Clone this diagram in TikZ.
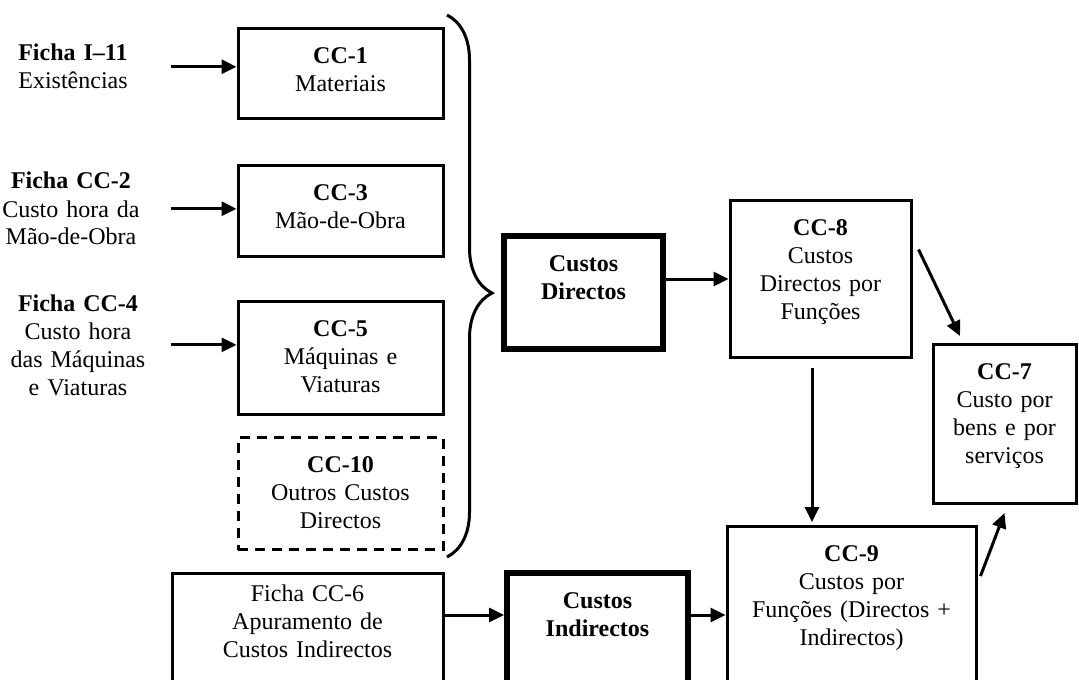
\documentclass[tikz,border=0pt]{standalone}
\usepackage{fontspec}
\setmainfont{Liberation Serif}
\usetikzlibrary{arrows.meta,decorations.pathreplacing}

\begin{document}
\begin{tikzpicture}[x=0.5pt,y=-0.5pt,
        font=\fontsize{12}{14}\selectfont,
        box/.style={draw,line width=1.5pt,align=center,anchor=north,inner sep=0pt,text height=17.5pt},
        bigbox/.style={box,line width=3pt},
        lab/.style={align=center,anchor=base,text width=75pt,inner sep=0pt},
        arr/.style={-{Triangle[length=7.5pt,width=7pt]},line width=1.5pt}]
        \useasboundingbox (0,0) rectangle (1079,679);
        % fichas on the left
        \node[lab] (fi11) at (73,61) {\textbf{Ficha I–11}\\Existências};
        \node[lab] (fcc2) at (71,189) {\textbf{Ficha CC-2}\\Custo hora da\\Mão-de-Obra};
        \node[lab] (fcc4) at (78,311) {\textbf{Ficha CC-4}\\Custo hora\\das Máquinas\\e Viaturas};
        % direct cost boxes
        \node[box,text width=102.5pt,text depth=27.5pt] (cc1) at (340.5,27) {\textbf{CC-1}\\Materiais};
        \node[box,text width=102.5pt,text depth=28pt] (cc3) at (340.5,164) {\textbf{CC-3}\\Mão-de-Obra};
        \node[box,text width=102.5pt,text depth=39pt] (cc5) at (340.5,300) {\textbf{CC-5}\\Máquinas e\\Viaturas};
        \node[box,dash pattern=on 5pt off 3.5pt,text width=102.5pt,text depth=38.5pt] (cc10) at (340.5,436) {\textbf{CC-10}\\Outros Custos\\Directos};
        \node[bigbox,text width=79.5pt,text depth=39pt,font=\fontsize{12}{14}\selectfont\bfseries] (cd) at (583.5,233) {Custos\\Directos};
        \node[box,text width=90.5pt,text depth=61pt] (cc8) at (820.5,199) {\textbf{CC-8}\\Custos\\Directos por\\Funções};
        \node[box,text width=71.5pt,text depth=62pt] (cc7) at (1004.5,343) {\textbf{CC-7}\\Custo por\\bens e por\\serviços};
        % indirect costs row
        \node[box,text width=135.5pt,text height=14pt,text depth=60pt] (cc6) at (307.5,572) {Ficha CC-6\\Apuramento de\\Custos Indirectos};
        \node[bigbox,text width=90.5pt,text depth=57.5pt,font=\fontsize{12}{14}\selectfont\bfseries] (ci) at (597.5,570) {Custos\\Indirectos};
        \node[box,text width=124.5pt,text depth=80pt] (cc9) at (851.5,525) {\textbf{CC-9}\\Custos por\\Funções (Directos +\\Indirectos)};
        % brace
        \draw[line width=1.5pt,decorate,decoration={brace,amplitude=22.5pt,aspect=0.513}] (447,15) -- (447,557);
        % arrows
        \draw[arr] (fi11.east -| cc6.west) -- (fi11.east -| cc1.west);
        \draw[arr] (fcc2.east -| cc6.west) -- (fcc2.east -| cc3.west);
        \draw[arr] (fcc4.east -| cc6.west) -- (fcc4.east -| cc5.west);
        \draw[arr] (cd.east |- cc8.west) -- (cc8.west);
        \draw[arr] ([shift={(6,-29.5)}]cc8.east) -- ([shift={(-44.5,-7)}]cc7.north);
        \coordinate (vtop) at ([shift={(-8.5,9)}]cc8.south);
        \draw[arr,shorten >=1.5pt] (vtop) -- (vtop |- cc9.north);
        \draw[arr] ([shift={(3,51)}]cc9.north east) -- ([shift={(0,8)}]cc7.south);
        \coordinate (row) at (0,615);
        \draw[arr] (cc6.east |- row) -- (ci.west |- row);
        \draw[arr] (ci.east |- row) -- (cc9.west |- row);
\end{tikzpicture}
\end{document}
